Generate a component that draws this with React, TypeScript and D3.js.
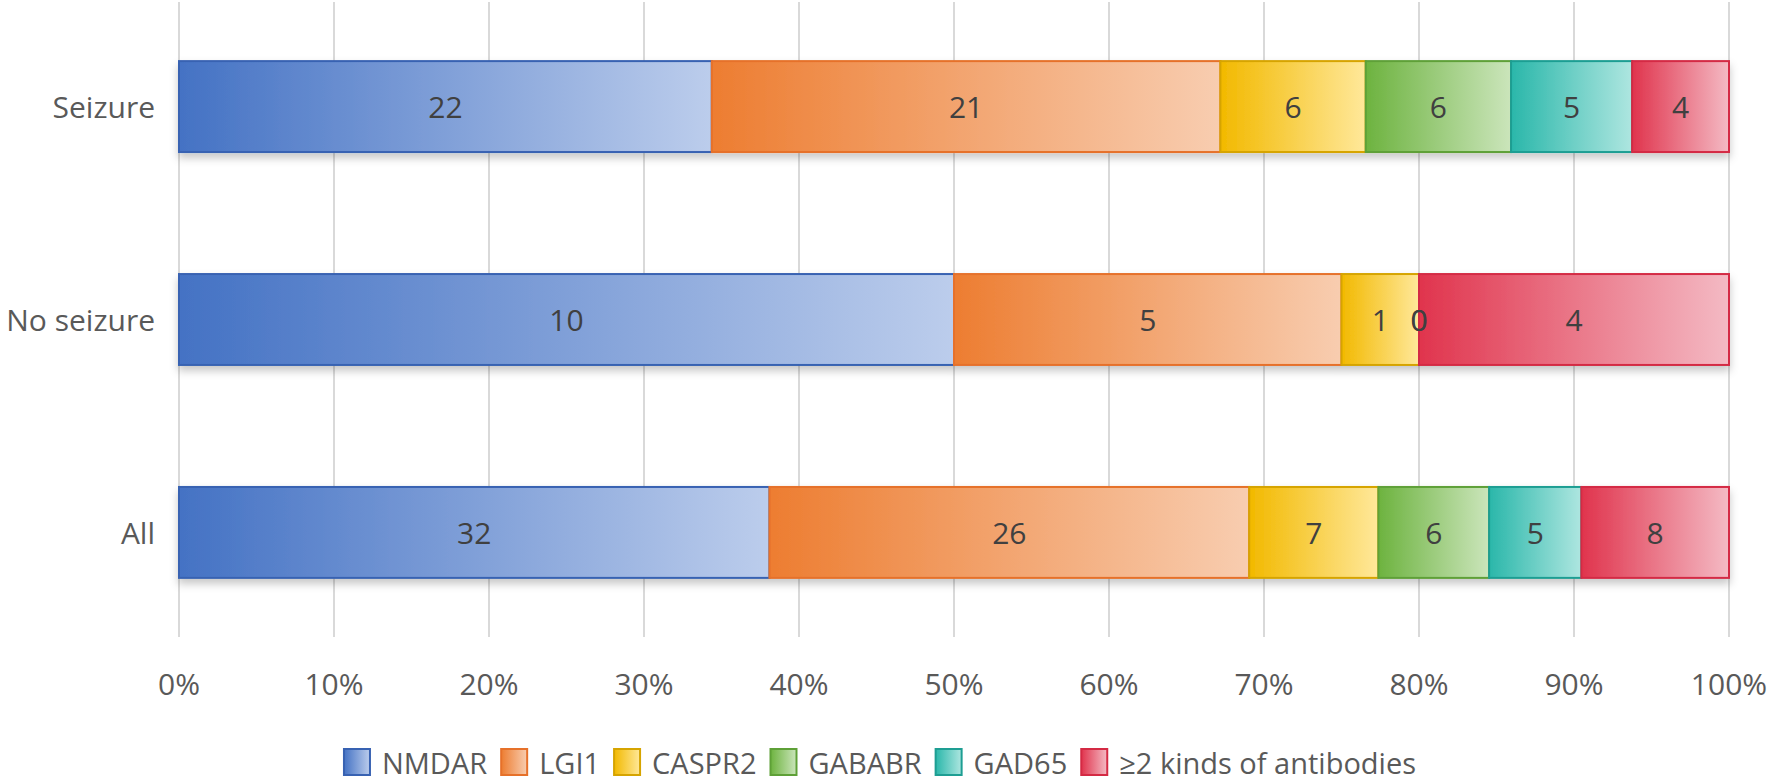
import React from "react";
import * as d3 from "d3";

const categories = ["Seizure", "No seizure", "All"];
const seriesNames = ["NMDAR", "LGI1", "CASPR2", "GABABR", "GAD65", "≥2 kinds of antibodies"];
const NMDAR = [22, 10, 32];
const LGI1 = [21, 5, 26];
const CASPR2 = [6, 1, 7];
const GABABR = [6, 0, 6];
const GAD65 = [5, 0, 5];
const MULTI = [4, 4, 8];
const tickValues = [0, 0.1, 0.2, 0.3, 0.4, 0.5, 0.6, 0.7, 0.8, 0.9, 1.0];

const baseColors = ["#4472C4", "#ED7D31", "#F2B900", "#6DB33F", "#2AB7AA", "#E0344D"];
const lightColors = ["#BCCDEC", "#F8CDB0", "#FFE89A", "#CBE5BB", "#AEE6E0", "#F4BAC4"];
const borderColors = ["#3862B2", "#E6712A", "#D6A400", "#5EA037", "#1E9E93", "#D42A44"];

const W = 1771;
const H = 783;
const FONT = "'Open Sans', sans-serif";
const FS = 30;
const LFS = 29;

function measure(text: string, size: number) {
  const c = document.createElement("canvas");
  const ctx = c.getContext("2d")!;
  ctx.font = `${size}px 'Open Sans'`;
  return ctx.measureText(text).width;
}

export default function App() {
  const values = [NMDAR, LGI1, CASPR2, GABABR, GAD65, MULTI];
  const x = d3.scaleLinear().domain([0, 1]).range([179, 1729]);
  const y = d3.scaleBand<string>().domain(categories).range([0, 639]).paddingInner(0.573).paddingOuter(0.287);

  const rows = categories.map((cat, ci) => {
    const total = d3.sum(values, (s) => s[ci]);
    let acc = 0;
    return values.map((s, si) => {
      const v = s[ci];
      const x0 = acc / total;
      acc += v;
      const x1 = acc / total;
      return { cat, si, v, x0, x1 };
    });
  });

  // legend layout
  const sq = 26;
  const gapSqText = 12;
  const gapItems = 14;
  const widths = seriesNames.map((n) => measure(n, LFS));
  const totalLegend = d3.sum(widths) + seriesNames.length * (sq + gapSqText) + (seriesNames.length - 1) * gapItems;
  let lx = 880 - totalLegend / 2;
  const legendItems = seriesNames.map((n, i) => {
    const item = { n, i, x: lx };
    lx += sq + gapSqText + widths[i] + gapItems;
    return item;
  });
  const legendY = 762;

  return (
    <svg width={W} height={H} style={{ position: "absolute", left: 0, top: 0, background: "#fff" }} fontFamily={FONT}>
      <defs>
        {baseColors.map((c, i) => (
          <linearGradient key={i} id={`g${i}`} x1="0" x2="1" y1="0" y2="0">
            <stop offset="0" stopColor={c} />
            <stop offset="1" stopColor={lightColors[i]} />
          </linearGradient>
        ))}
        <filter id="shadow" x="-5%" y="-20%" width="110%" height="160%">
          <feDropShadow dx="0" dy="5" stdDeviation="4" floodColor="#000" floodOpacity="0.22" />
        </filter>
      </defs>
      {tickValues.map((t) => (
        <line key={t} x1={x(t)} x2={x(t)} y1={2} y2={637} stroke="#D9D9D9" strokeWidth={2} />
      ))}
      {rows.map((row, ri) => (
        <g key={ri} filter="url(#shadow)">
          {row.map((d) =>
            d.x1 - d.x0 > 0 ? (
              <rect
                key={d.si}
                x={x(d.x0)}
                y={y(d.cat)!}
                width={x(d.x1) - x(d.x0)}
                height={y.bandwidth()}
                fill={`url(#g${d.si})`}
                stroke={borderColors[d.si]}
                strokeWidth={2}
              />
            ) : null
          )}
        </g>
      ))}
      {rows.map((row, ri) =>
        row.map((d) => (
          <text
            key={`${ri}-${d.si}`}
            x={(x(d.x0) + x(d.x1)) / 2}
            y={y(d.cat)! + y.bandwidth() / 2}
            textAnchor="middle"
            dominantBaseline="central"
            fontSize={FS}
            fill="#404040"
          >
            {d.v}
          </text>
        ))
      )}
      {categories.map((c) => (
        <text
          key={c}
          x={155}
          y={y(c)! + y.bandwidth() / 2}
          textAnchor="end"
          dominantBaseline="central"
          fontSize={FS}
          fill="#595959"
        >
          {c}
        </text>
      ))}
      {tickValues.map((t) => (
        <text key={t} x={x(t)} y={683} textAnchor="middle" dominantBaseline="central" fontSize={FS} fill="#595959">
          {d3.format(".0%")(t)}
        </text>
      ))}
      {legendItems.map((it) => (
        <g key={it.i}>
          <rect
            x={it.x}
            y={legendY - sq / 2}
            width={sq}
            height={sq}
            fill={`url(#g${it.i})`}
            stroke={borderColors[it.i]}
            strokeWidth={2}
          />
          <text x={it.x + sq + gapSqText} y={legendY} dominantBaseline="central" fontSize={LFS} fill="#595959">
            {it.n}
          </text>
        </g>
      ))}
    </svg>
  );
}
